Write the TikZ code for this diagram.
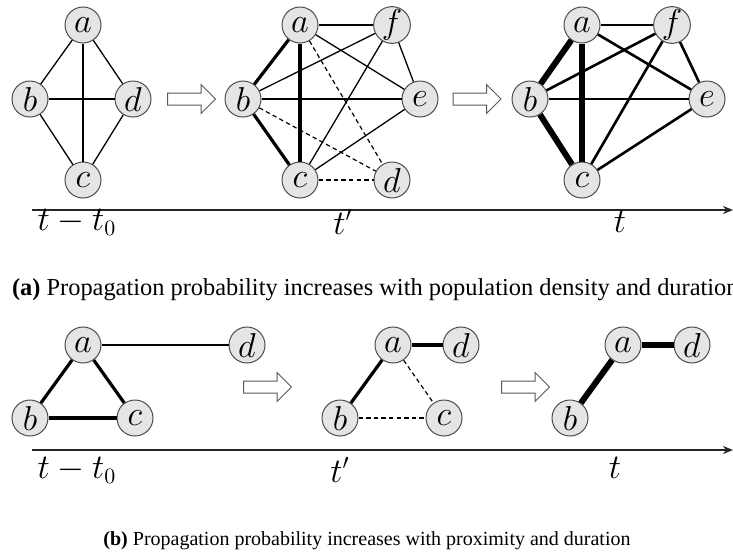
\documentclass[tikz,border=0pt]{standalone}
\usepackage{fontspec}
\setmainfont{Liberation Serif}
\usetikzlibrary{arrows.meta,shapes.arrows}
\tikzset{
  vtx/.style     ={circle, draw=black!70, fill=black!10, line width=.5pt,
                   minimum size=18pt, inner sep=0pt, font=\fontsize{16}{19}\selectfont},
  lnk/.style     ={line width=.65pt},
  lnkdash/.style ={line width=.6pt, dash pattern=on 2.2pt off 1.6pt},
  lnkbold/.style ={line width=1.6pt},
  lnkmid/.style  ={line width=1.3pt},
  lnkheavy/.style={line width=3pt},
  nxt/.style     ={single arrow, draw=black!65, fill=white, line width=.5pt,
                   minimum height=24pt, single arrow head extend=4.25pt,
                   inner xsep=0pt, inner ysep=2.75pt, minimum width=0pt},
  axis/.style    ={draw=black!85, line width=.8pt, -{Stealth[length=5pt,width=4pt]}},
  tlabel/.style  ={font=\fontsize{16}{19}\selectfont},
  capt/.style    ={font=\fontsize{10}{12}\selectfont},
}

\begin{document}
\begin{tikzpicture}[x=0.5pt,y=-0.5pt]
  \useasboundingbox (0,0) rectangle (733,554);

  % (a) stage t - t0
  \node[vtx] (s1a) at (83,25)  {$a$};
  \node[vtx] (s1b) at (30,99)  {$b$};
  \node[vtx] (s1d) at (133,99) {$d$};
  \node[vtx] (s1c) at (83,180) {$c$};
  \foreach \u/\v in {s1a/s1b,s1a/s1d,s1a/s1c,s1b/s1d,s1b/s1c,s1d/s1c}{\draw[lnk] (\u) -- (\v);}

  \node[nxt] (s1go) at (188.5,99) {};

  % (a) stage t'
  \node[vtx] (s2a) at (300,25)  {$a$};
  \node[vtx] (s2f) at (392,25)  {$f$};
  \node[vtx] (s2b) at (243,99)  {$b$};
  \node[vtx] (s2e) at (420,99)  {$e$};
  \node[vtx] (s2c) at (300,180) {$c$};
  \node[vtx] (s2d) at (392,180) {$d$};
  \foreach \u/\v in {s2a/s2f,s2a/s2e,s2b/s2f,s2b/s2e,s2c/s2f,s2c/s2e,s2f/s2e}{\draw[lnk] (\u) -- (\v);}
  \foreach \u/\v in {s2a/s2b,s2a/s2c,s2b/s2c}{\draw[lnkbold] (\u) -- (\v);}
  \foreach \u/\v in {s2a/s2d,s2b/s2d,s2c/s2d}{\draw[lnkdash] (\u) -- (\v);}

  \node[nxt] (s2go) at (474,99) {};

  % (a) stage t
  \node[vtx] (s3a) at (582,25)  {$a$};
  \node[vtx] (s3f) at (672,25)  {$f$};
  \node[vtx] (s3b) at (530,99)  {$b$};
  \node[vtx] (s3e) at (707,99)  {$e$};
  \node[vtx] (s3c) at (582,180) {$c$};
  \foreach \u/\v in {s3a/s3f,s3a/s3e,s3b/s3f,s3b/s3e,s3c/s3f,s3c/s3e,s3f/s3e}{\draw[lnkmid] (\u) -- (\v);}
  \foreach \u/\v in {s3a/s3b,s3a/s3c,s3b/s3c}{\draw[lnkheavy] (\u) -- (\v);}

  \coordinate (ta0) at (32,210);
  \coordinate (ta1) at (733,210);
  \draw[axis] (ta0) -- (ta1);
  \node[tlabel] (ta0l) at (77,222)  {$t-t_0$};
  \node[tlabel] (ta1l) at (343,222) {$t'$};
  \node[tlabel] (ta2l) at (620,222) {$t$};

  \node[capt,font=\fontsize{12.2}{14}\selectfont,anchor=west] (capa) at (5,290)
    {\textbf{(a)} Propagation probability increases with population density and duration};

  % (b) stage t - t0
  \node[vtx] (p1a) at (83,345)  {$a$};
  \node[vtx] (p1d) at (247,345) {$d$};
  \node[vtx] (p1b) at (30,418)  {$b$};
  \node[vtx] (p1c) at (135,418) {$c$};
  \draw[lnk] (p1a) -- (p1d);
  \foreach \u/\v in {p1a/p1b,p1a/p1c,p1b/p1c}{\draw[lnkbold] (\u) -- (\v);}

  \node[nxt] (p1go) at (264.5,387) {};

  % (b) stage t'
  \node[vtx] (p2a) at (393,345) {$a$};
  \node[vtx] (p2d) at (461,345) {$d$};
  \node[vtx] (p2b) at (340,418) {$b$};
  \node[vtx] (p2c) at (444,418) {$c$};
  \foreach \u/\v in {p2a/p2b,p2a/p2d}{\draw[lnkbold] (\u) -- (\v);}
  \foreach \u/\v in {p2a/p2c,p2b/p2c}{\draw[lnkdash] (\u) -- (\v);}

  \node[nxt] (p2go) at (522.5,387) {};

  % (b) stage t
  \node[vtx] (p3a) at (623,345) {$a$};
  \node[vtx] (p3d) at (692,345) {$d$};
  \node[vtx] (p3b) at (570,418) {$b$};
  \foreach \u/\v in {p3a/p3b,p3a/p3d}{\draw[lnkheavy] (\u) -- (\v);}

  \coordinate (tb0) at (32,450);
  \coordinate (tb1) at (733,450);
  \draw[axis] (tb0) -- (tb1);
  \node[tlabel] (tb0l) at (77,470)  {$t-t_0$};
  \node[tlabel] (tb1l) at (340,470) {$t'$};
  \node[tlabel] (tb2l) at (615,468) {$t$};

  \node[capt] (capb) at (367,541)
    {\textbf{(b)} Propagation probability increases with proximity and duration};
\end{tikzpicture}
\end{document}
